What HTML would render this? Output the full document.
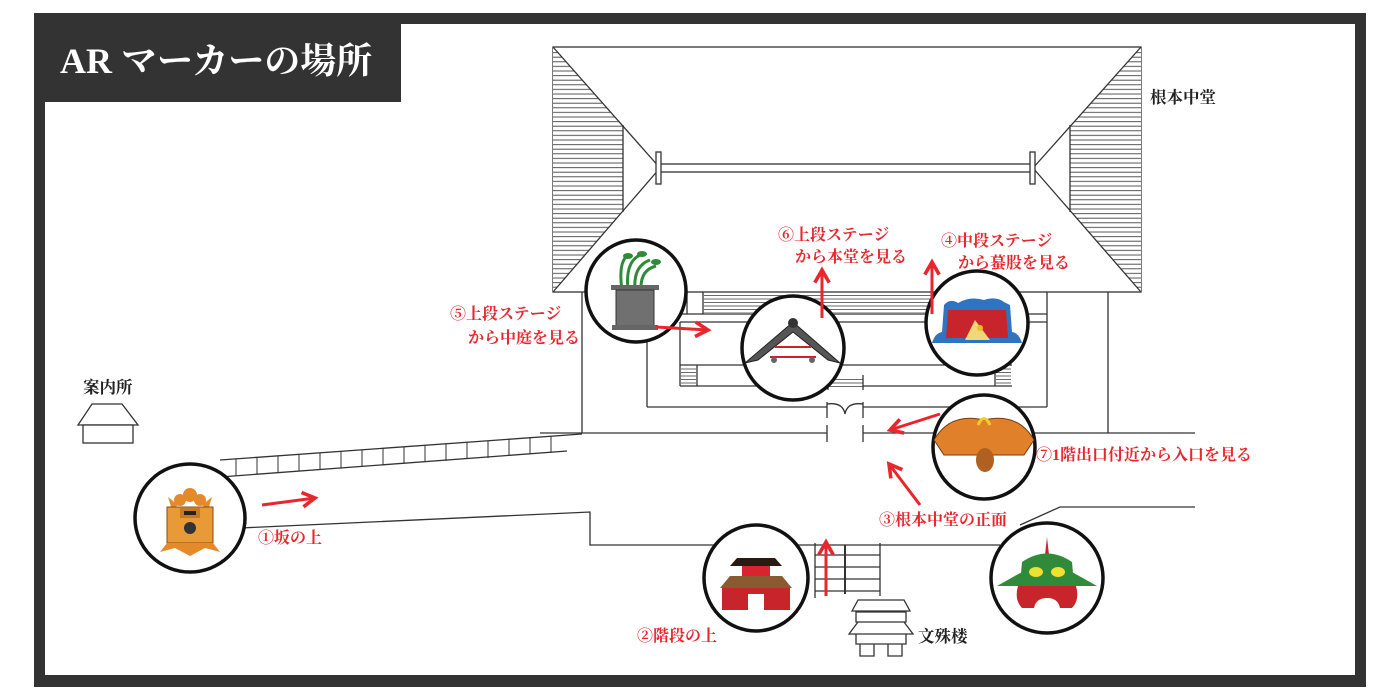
<!DOCTYPE html>
<html><head><meta charset="utf-8"><style>
html,body{margin:0;padding:0;background:#fff;}
svg{display:block;}
text{font-family:"Liberation Serif","Noto Serif CJK SC","Noto Sans CJK JP",serif;font-weight:bold;}
.r{fill:#e8262e;font-size:16px;}
.k{fill:#222;font-size:16.5px;}
</style></head><body>
<svg width="1400" height="700" viewBox="0 0 1400 700" xmlns="http://www.w3.org/2000/svg">
<defs>
<marker id="ah" viewBox="0 0 10 10" refX="8" refY="5" markerWidth="6" markerHeight="6" orient="auto"><path d="M1,1 L8,5 L1,9" fill="none" stroke="#e8262e" stroke-width="2"/></marker>
<clipPath id="lt"><polygon points="553,47 660,168 553,292"/></clipPath>
<clipPath id="rt"><polygon points="1141,47 1033,168 1141,292"/></clipPath>
<pattern id="hatch" width="10" height="4.6" patternUnits="userSpaceOnUse"><rect width="10" height="4.6" fill="#fff"/><line x1="0" y1="2" x2="10" y2="2" stroke="#444" stroke-width="0.9"/></pattern>
<pattern id="hatch2" width="10" height="3.5" patternUnits="userSpaceOnUse"><rect width="10" height="3.5" fill="#fff"/><line x1="0" y1="1.5" x2="10" y2="1.5" stroke="#444" stroke-width="0.8"/></pattern>
</defs>
<rect x="34" y="13" width="1332" height="674" fill="#333"/>
<rect x="45" y="24" width="1310" height="651" fill="#fff"/>
<rect x="34" y="13" width="367" height="89" fill="#333"/>
<text x="60" y="73" fill="#fff" style="font-size:36px;">AR マーカーの場所</text>

<g fill="none" stroke="#333" stroke-width="1.3">
<rect x="553" y="47" width="588" height="245" fill="#fff"/>
<rect x="553" y="47" width="70" height="245" fill="url(#hatch)" stroke="none" clip-path="url(#lt)"/>
<rect x="1070" y="47" width="71" height="245" fill="url(#hatch)" stroke="none" clip-path="url(#rt)"/>
<line x1="553" y1="47" x2="660" y2="168"/><line x1="553" y1="292" x2="660" y2="168"/>
<line x1="1141" y1="47" x2="1033" y2="168"/><line x1="1141" y1="292" x2="1033" y2="168"/>
<line x1="623" y1="125" x2="623" y2="212"/><line x1="1070" y1="125" x2="1070" y2="212"/>
<rect x="660" y="164" width="373" height="8" fill="#fff"/>
<rect x="656" y="152" width="5" height="32" fill="#fff"/>
<rect x="1030" y="152" width="5" height="32" fill="#fff"/>
<line x1="582" y1="292" x2="582" y2="433"/>
<line x1="1108" y1="292" x2="1108" y2="433"/>
<line x1="540" y1="433" x2="827" y2="433"/>
<line x1="863" y1="433" x2="1195" y2="433"/>
<line x1="647" y1="292" x2="647" y2="407"/>
<line x1="1047" y1="292" x2="1047" y2="407"/>
<line x1="647" y1="407" x2="827" y2="407"/>
<line x1="863" y1="407" x2="1047" y2="407"/>
<line x1="647" y1="314" x2="1047" y2="314"/>
<line x1="680" y1="322" x2="1047" y2="322"/>
<line x1="680" y1="322" x2="680" y2="386"/>
<line x1="680" y1="365" x2="1012" y2="365"/>
<line x1="680" y1="386" x2="1012" y2="386"/>
<line x1="697" y1="365" x2="697" y2="386"/>
<line x1="995" y1="365" x2="995" y2="386"/>
<rect x="681" y="366" width="15" height="19" fill="url(#hatch2)" stroke="none"/>
<rect x="996" y="366" width="15" height="19" fill="url(#hatch2)" stroke="none"/>
<rect x="828" y="377" width="35" height="10" fill="url(#hatch2)" stroke="none"/>
<line x1="828" y1="375" x2="828" y2="390"/><line x1="863" y1="375" x2="863" y2="390"/>
<rect x="704" y="293" width="296" height="20" fill="url(#hatch2)" stroke="none"/>
<line x1="703" y1="292" x2="703" y2="314"/><line x1="1000" y1="292" x2="1000" y2="314"/>
<line x1="1010" y1="292" x2="1010" y2="314"/><line x1="687" y1="292" x2="687" y2="314"/>
<line x1="827" y1="402" x2="827" y2="418"/><line x1="863" y1="402" x2="863" y2="418"/>
<line x1="827" y1="425" x2="827" y2="442"/><line x1="863" y1="425" x2="863" y2="442"/>
<path d="M827,404 Q843,402 845,414 Q847,402 863,404"/>
<line x1="220" y1="460" x2="582" y2="434"/>
<line x1="220" y1="477" x2="567" y2="451"/>
<g stroke-width="1">
<line x1="236" y1="459" x2="236" y2="476"/><line x1="257" y1="457" x2="257" y2="474"/><line x1="278" y1="456" x2="278" y2="473"/><line x1="299" y1="454" x2="299" y2="471"/><line x1="320" y1="453" x2="320" y2="470"/><line x1="341" y1="451" x2="341" y2="468"/><line x1="362" y1="450" x2="362" y2="467"/><line x1="383" y1="448" x2="383" y2="465"/><line x1="404" y1="447" x2="404" y2="464"/><line x1="425" y1="445" x2="425" y2="462"/><line x1="446" y1="444" x2="446" y2="461"/><line x1="467" y1="442" x2="467" y2="459"/><line x1="488" y1="441" x2="488" y2="458"/><line x1="509" y1="439" x2="509" y2="456"/><line x1="530" y1="437" x2="530" y2="454"/><line x1="551" y1="436" x2="551" y2="453"/>
</g>
<polyline points="240,528 590,512 590,545 1000,545"/>
<polyline points="1020,525 1060,507 1195,507"/>
<line x1="815" y1="543" x2="815" y2="598"/><line x1="880" y1="543" x2="880" y2="596"/>
<line x1="845" y1="545" x2="845" y2="594" stroke-width="2"/>
<line x1="815" y1="555" x2="880" y2="555"/><line x1="815" y1="567" x2="880" y2="567"/><line x1="815" y1="579" x2="880" y2="579"/><line x1="815" y1="591" x2="880" y2="591"/>
<polygon points="78,425 92,404 122,404 138,425" fill="#fff"/>
<rect x="83" y="425" width="50" height="18" fill="#fff"/>
<path d="M852,611 L858,600 L904,600 L910,611 Z M856,612 L906,612 L906,622 L856,622 Z M849,634 L858,622 L904,622 L913,634 Z M856,634 L906,634 L906,644 L856,644 Z M860,644 L874,644 L874,656 L860,656 Z M888,644 L902,644 L902,656 L888,656 Z" fill="#fff"/>
</g>

<g stroke="#111" stroke-width="3.5" fill="#fff">
<ellipse cx="190" cy="518" rx="55" ry="54"/>
<ellipse cx="636" cy="291" rx="50" ry="51"/>
<ellipse cx="793" cy="348" rx="51" ry="52"/>
<ellipse cx="977" cy="323" rx="51" ry="52"/>
<ellipse cx="984" cy="447" rx="51" ry="52"/>
<ellipse cx="756" cy="578" rx="52" ry="53"/>
<ellipse cx="1047" cy="578" rx="56" ry="55"/>
</g>

<g>
<circle cx="190" cy="495" r="7" fill="#e58a2b"/><circle cx="180" cy="500" r="6" fill="#e58a2b"/><circle cx="200" cy="500" r="6" fill="#e58a2b"/>
<path d="M168,497 L178,505 L172,510 Z M212,497 L202,505 L208,510 Z" fill="#e58a2b"/>
<rect x="167" y="507" width="46" height="36" fill="#e89a36" stroke="#8a4b12" stroke-width="1"/>
<rect x="180" y="508" width="20" height="10" fill="#c87a20"/><rect x="184" y="511" width="12" height="4" fill="#222"/>
<circle cx="190" cy="528" r="6" fill="#333"/>
<path d="M167,543 L160,552 L175,548 L190,556 L205,548 L220,552 L213,543 Z" fill="#e58a2b"/>
</g>
<g>
<path d="M622,290 Q618,262 628,255 M628,290 Q625,262 640,255 M635,290 Q633,266 650,260 M641,290 Q640,270 656,266" stroke="#2f8a3a" stroke-width="3" fill="none"/>
<ellipse cx="628" cy="256" rx="5" ry="3" fill="#2f8a3a"/><ellipse cx="642" cy="254" rx="5" ry="3" fill="#2f8a3a"/><ellipse cx="656" cy="262" rx="5" ry="3" fill="#2f8a3a"/>
<rect x="611" y="285" width="48" height="5" fill="#666"/>
<rect x="616" y="290" width="38" height="36" fill="#707070" stroke="#333" stroke-width="1"/>
<rect x="612" y="325" width="46" height="5" fill="#666"/>
</g>
<g>
<path d="M745,363 L793,322 L840,363 L828,360 L793,332 L758,360 Z" fill="#555" stroke="#222" stroke-width="1"/>
<circle cx="793" cy="323" r="5" fill="#333"/>
<rect x="775" y="346" width="36" height="2" fill="#c8242c"/><rect x="770" y="356" width="46" height="2" fill="#c8242c"/>
<circle cx="774" cy="360" r="3" fill="#666"/><circle cx="812" cy="360" r="3" fill="#666"/>
</g>
<g>
<path d="M932,343 Q935,333 942,332 L944,305 Q950,298 958,303 Q970,296 984,300 Q996,296 1004,302 L1010,305 L1012,332 Q1019,333 1022,343 Z" fill="#2f74c0"/>
<path d="M946,338 L948,310 L1006,310 L1008,338 Z" fill="#c8242c"/>
<path d="M965,340 L975,320 L990,340 Z" fill="#f0d87a"/>
<circle cx="980" cy="328" r="3" fill="#e8c020"/>
</g>
<g>
<path d="M934,440 Q950,412 984,420 Q1018,412 1034,440 L1024,455 L944,455 Z" fill="#e0802a" stroke="#7a3a10" stroke-width="1"/>
<path d="M978,425 Q984,412 990,425" stroke="#f0d020" stroke-width="3" fill="none"/>
<ellipse cx="985" cy="460" rx="9" ry="12" fill="#b06020"/>
</g>
<g>
<path d="M730,566 L737,558 L775,558 L782,566 Z" fill="#2a1a12"/>
<rect x="742" y="566" width="28" height="10" fill="#d8242c"/>
<path d="M720,588 L730,576 L782,576 L792,588 Z" fill="#8a5a30"/>
<rect x="722" y="588" width="68" height="22" fill="#c8242c"/>
<rect x="748" y="594" width="16" height="16" fill="#fff"/>
</g>
<g>
<path d="M1047,537 L1045,555 L1049,555 Z" fill="#c8242c"/>
<path d="M1022,562 Q1047,545 1072,562 L1074,585 L1020,585 Z" fill="#2f8a3a"/>
<path d="M997,586 L1022,572 L1072,572 L1097,586 Z" fill="#2f8a3a"/>
<ellipse cx="1036" cy="572" rx="7" ry="5" fill="#f0e030"/><ellipse cx="1058" cy="572" rx="7" ry="5" fill="#f0e030"/>
<path d="M1018,586 L1076,586 Q1080,600 1072,608 L1060,608 Q1058,598 1047,598 Q1036,598 1034,608 L1022,608 Q1014,600 1018,586 Z" fill="#c8242c"/>
</g>

<g stroke="#e8262e" stroke-width="3" fill="none" marker-end="url(#ah)">
<line x1="262" y1="505" x2="315" y2="498"/>
<line x1="656" y1="327" x2="708" y2="330"/>
<line x1="822" y1="318" x2="822" y2="270"/>
<line x1="932" y1="314" x2="932" y2="262"/>
<line x1="940" y1="414" x2="890" y2="430"/>
<line x1="920" y1="505" x2="889" y2="464"/>
<line x1="826" y1="596" x2="826" y2="542"/>
</g>

<text class="r" x="450" y="319">⑤上段ステージ</text>
<text class="r" x="468" y="343">から中庭を見る</text>
<text class="r" x="778" y="240">⑥上段ステージ</text>
<text class="r" x="795" y="262">から本堂を見る</text>
<text class="r" x="941" y="246">④中段ステージ</text>
<text class="r" x="958" y="268">から蟇股を見る</text>
<text class="r" x="1036" y="460">⑦1階出口付近から入口を見る</text>
<text class="r" x="879" y="525">③根本中堂の正面</text>
<text class="r" x="258" y="543">①坂の上</text>
<text class="r" x="637" y="641">②階段の上</text>
<text class="k" x="1150" y="103">根本中堂</text>
<text class="k" x="83" y="393">案内所</text>
<text class="k" x="918" y="642">文殊楼</text>
</svg>
</body></html>
